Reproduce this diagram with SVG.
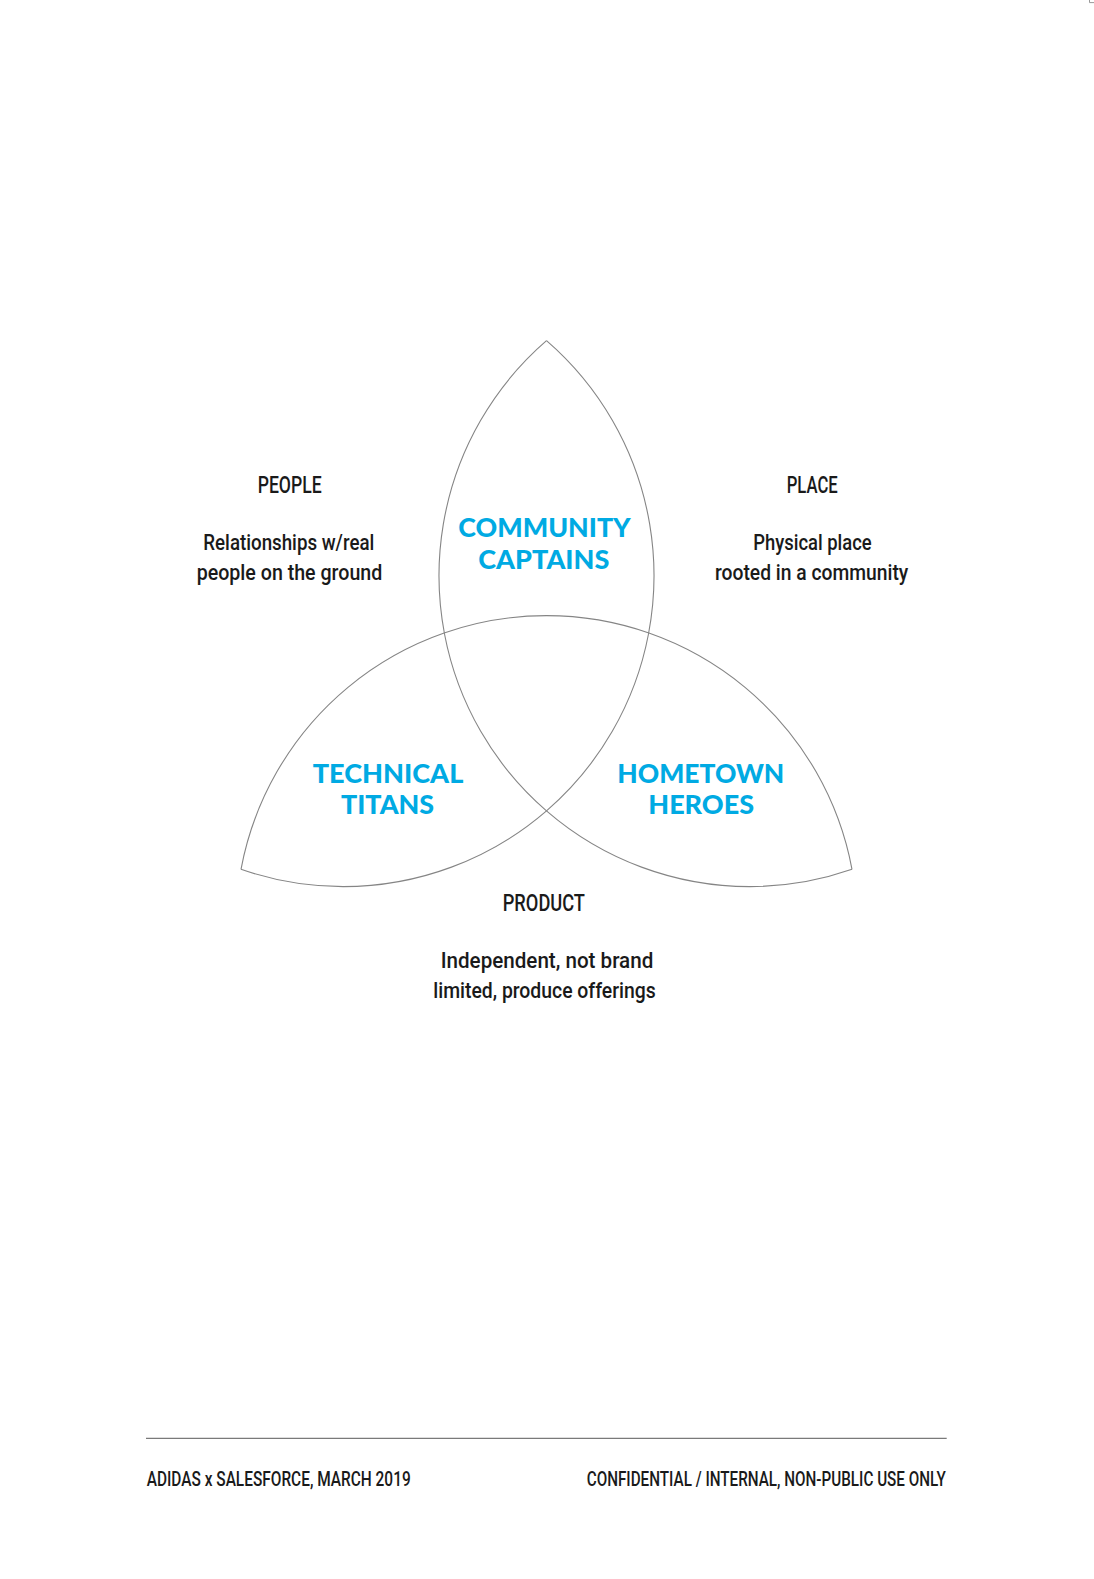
<svg xmlns="http://www.w3.org/2000/svg" width="1094" height="1579" viewBox="0 0 1094 1579">
  <style>
    .arc { fill: none; stroke: #858585; stroke-width: 1.1; }
    .seg { fill: #00aae3; font-family: "Lato", "Liberation Sans", sans-serif; font-weight: 900; font-size: 26.5px; }
    .ttl { fill: #1a1a1a; font-family: "Liberation Sans Narrow", "Roboto", "Liberation Sans", sans-serif; font-weight: 500; font-size: 23.5px; }
    .body { fill: #1a1a1a; font-family: "Liberation Sans Narrow", "Roboto", "Liberation Sans", sans-serif; font-weight: 500; font-size: 22px; }
    .foot { fill: #1a1a1a; font-family: "Liberation Sans Narrow", "Roboto", "Liberation Sans", sans-serif; font-weight: 500; font-size: 19.5px; }
  </style>
  <rect width="1094" height="1579" fill="#ffffff"/>
  <path d="M1089.5,0 V2.6 H1094" fill="none" stroke="#999" stroke-width="1"/>

  <g id="connectors">
    <path class="arc" d="M546.5,340.7 A310.8,310.8 0 0 0 852,869.3"/>
    <path class="arc" d="M546.5,340.7 A310.8,310.8 0 0 1 241,869.3"/>
    <path class="arc" d="M241,869.3 A310.8,310.8 0 0 1 852,869.3"/>
  </g>

  <g id="community-captains">
    <text class="seg" x="458.3" y="537.3" textLength="172.4" lengthAdjust="spacingAndGlyphs">COMMUNITY</text>
    <text class="seg" x="478.3" y="569.3" textLength="131" lengthAdjust="spacingAndGlyphs">CAPTAINS</text>
  </g>
  <g id="technical-titans">
    <text class="seg" x="312.7" y="782.7" textLength="150.6" lengthAdjust="spacingAndGlyphs">TECHNICAL</text>
    <text class="seg" x="341" y="814.3" textLength="93" lengthAdjust="spacingAndGlyphs">TITANS</text>
  </g>
  <g id="hometown-heroes">
    <text class="seg" x="617.3" y="782.7" textLength="167" lengthAdjust="spacingAndGlyphs">HOMETOWN</text>
    <text class="seg" x="648.3" y="814.3" textLength="105.7" lengthAdjust="spacingAndGlyphs">HEROES</text>
  </g>

  <g id="people">
    <text class="ttl" x="257.7" y="493.3" textLength="64" lengthAdjust="spacingAndGlyphs">PEOPLE</text>
    <text class="body" x="203.3" y="550" textLength="171" lengthAdjust="spacingAndGlyphs">Relationships w/real</text>
    <text class="body" x="196.7" y="579.5" textLength="185.6" lengthAdjust="spacingAndGlyphs">people on the ground</text>
  </g>
  <g id="place">
    <text class="ttl" x="786.7" y="493.3" textLength="51" lengthAdjust="spacingAndGlyphs">PLACE</text>
    <text class="body" x="753.3" y="550" textLength="118.4" lengthAdjust="spacingAndGlyphs">Physical place</text>
    <text class="body" x="715" y="579.5" textLength="193.3" lengthAdjust="spacingAndGlyphs">rooted in a community</text>
  </g>
  <g id="product">
    <text class="ttl" x="502.7" y="910.7" textLength="82.3" lengthAdjust="spacingAndGlyphs">PRODUCT</text>
    <text class="body" x="440.7" y="968.3" textLength="212.6" lengthAdjust="spacingAndGlyphs">Independent, not brand</text>
    <text class="body" x="433.3" y="997.8" textLength="222.4" lengthAdjust="spacingAndGlyphs">limited, produce offerings</text>
  </g>

  <g id="footer">
    <line x1="146" y1="1438.3" x2="946.7" y2="1438.3" stroke="#7a7a7a" stroke-width="1.2"/>
    <text class="foot" x="146.7" y="1485.7" textLength="264" lengthAdjust="spacingAndGlyphs">ADIDAS x SALESFORCE, MARCH 2019</text>
    <text class="foot" x="586.7" y="1485.7" textLength="359" lengthAdjust="spacingAndGlyphs">CONFIDENTIAL / INTERNAL, NON-PUBLIC USE ONLY</text>
  </g>
</svg>
